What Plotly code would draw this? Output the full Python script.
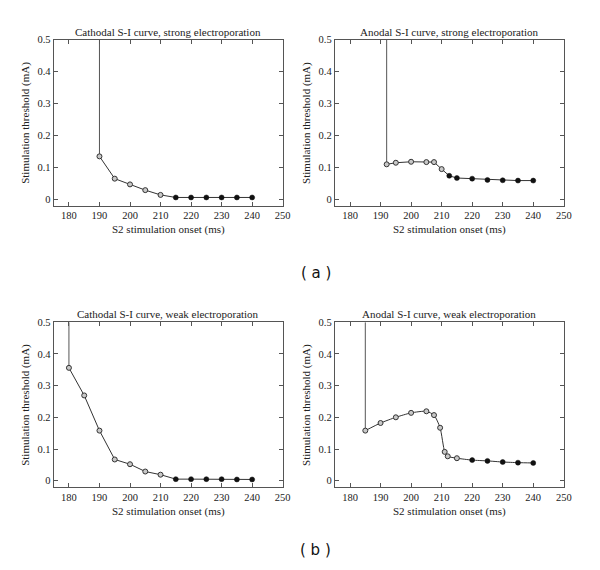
import plotly.graph_objects as go

# ---------------- data ----------------
y_cap = 0.5  # threshold above plotted range (vertical asymptote)

cath_strong_x = [190, 195, 200, 205, 210, 215, 220, 225, 230, 235, 240]
cath_strong_y = [0.134, 0.064, 0.046, 0.028, 0.013, 0.005, 0.005, 0.005, 0.005, 0.005, 0.005]
cath_strong_filled = [0, 0, 0, 0, 0, 1, 1, 1, 1, 1, 1]

anod_strong_x = [192, 195, 200, 205, 207.5, 210, 212.5, 215, 220, 225, 230, 235, 240]
anod_strong_y = [0.109, 0.114, 0.117, 0.116, 0.116, 0.094, 0.073, 0.066, 0.064, 0.060, 0.059, 0.058, 0.058]
anod_strong_filled = [0, 0, 0, 0, 0, 0, 1, 1, 1, 1, 1, 1, 1]

cath_weak_x = [180, 185, 190, 195, 200, 205, 210, 215, 220, 225, 230, 235, 240]
cath_weak_y = [0.356, 0.269, 0.158, 0.067, 0.052, 0.029, 0.019, 0.005, 0.005, 0.005, 0.005, 0.004, 0.004]
cath_weak_filled = [0, 0, 0, 0, 0, 0, 0, 1, 1, 1, 1, 1, 1]

anod_weak_x = [185, 190, 195, 200, 205, 207.5, 209.5, 211, 212, 215, 220, 225, 230, 235, 240]
anod_weak_y = [0.158, 0.182, 0.200, 0.214, 0.219, 0.207, 0.167, 0.091, 0.077, 0.071, 0.065, 0.0625, 0.059, 0.057, 0.056]
anod_weak_filled = [0, 0, 0, 0, 0, 0, 0, 0, 0, 0, 1, 1, 1, 1, 1]

titles = [
    "Cathodal S-I curve, strong electroporation",
    "Anodal S-I curve, strong electroporation",
    "Cathodal S-I curve, weak electroporation",
    "Anodal S-I curve, weak electroporation",
]
x_ticks = [180, 190, 200, 210, 220, 230, 240, 250]
y_ticks = [0, 0.1, 0.2, 0.3, 0.4, 0.5]
x_title = "S2 stimulation onset (ms)"
y_title = "Stimulation threshold (mA)"
panel_labels = ["( a )", "( b )"]

panels = [
    (cath_strong_x, cath_strong_y, cath_strong_filled, "linear"),
    (anod_strong_x, anod_strong_y, anod_strong_filled, "linear"),
    (cath_weak_x, cath_weak_y, cath_weak_filled, "linear"),
    (anod_weak_x, anod_weak_y, anod_weak_filled, "spline"),
]

# ---------------- layout geometry (page pixels) ----------------
OFF = 8                      # default page body margin
W, H = 600 - 2 * OFF, 570 - 2 * OFF
col_px = [(54.3, 286.5), (339.3, 571.5)]
row_px = [(35, 202.5), (320, 486.7)]

SERIF = "Liberation Serif"
TXT = "#222222"
FRAME = "#555555"

fig = go.Figure()
annotations = []


def px(x):
    return (x - OFF) / W


def py(y):
    return 1 - (y - OFF) / H


for i, (xs, ys, filled, shape) in enumerate(panels):
    r, c = divmod(i, 2)
    n = i + 1
    xa = "x" if n == 1 else f"x{n}"
    ya = "y" if n == 1 else f"y{n}"
    # vertical asymptote at first onset
    fig.add_trace(go.Scatter(
        x=[xs[0], xs[0]], y=[y_cap, ys[0]], mode="lines",
        line=dict(color="#555555", width=1),
        xaxis=xa, yaxis=ya, showlegend=False, hoverinfo="skip"))
    fig.add_trace(go.Scatter(
        x=xs, y=ys, mode="lines",
        line=dict(color="#333333", width=1, shape=shape, smoothing=0.6),
        xaxis=xa, yaxis=ya, showlegend=False, hoverinfo="skip"))
    ox = [x for x, f in zip(xs, filled) if not f]
    oy = [y for y, f in zip(ys, filled) if not f]
    fx = [x for x, f in zip(xs, filled) if f]
    fy = [y for y, f in zip(ys, filled) if f]
    fig.add_trace(go.Scatter(
        x=ox, y=oy, mode="markers",
        marker=dict(symbol="circle", size=5, color="#c8c8c8",
                    line=dict(color="#333333", width=1)),
        xaxis=xa, yaxis=ya, showlegend=False))
    fig.add_trace(go.Scatter(
        x=fx, y=fy, mode="markers",
        marker=dict(symbol="circle", size=5, color="#111111",
                    line=dict(color="#111111", width=0.5)),
        xaxis=xa, yaxis=ya, showlegend=False))

    x0, x1 = col_px[c]
    y0, y1 = row_px[r]
    axis_common = dict(
        showline=True, linecolor=FRAME, linewidth=1, mirror="allticks",
        ticks="inside", ticklen=4, tickcolor=FRAME, showgrid=False,
        zeroline=False, tickfont=dict(family=SERIF, size=10.5, color=TXT),
    )
    fig.layout[f"xaxis{'' if n == 1 else n}"] = dict(
        axis_common, domain=[px(x0), px(x1)], range=[175, 250],
        tickvals=x_ticks, anchor=ya)
    fig.layout[f"yaxis{'' if n == 1 else n}"] = dict(
        axis_common, domain=[py(y1), py(y0)], range=[-0.021, 0.5],
        tickvals=y_ticks, ticktext=[f"{v:g}" for v in y_ticks], anchor=xa)

    cx = (x0 + x1) / 2
    annotations.append(dict(text=titles[i], x=px(cx), y=py(y0 - 8), xref="paper", yref="paper",
                            xanchor="center", yanchor="middle", showarrow=False,
                            font=dict(family=SERIF, size=11, color=TXT)))
    annotations.append(dict(text=x_title, x=px(cx), y=py(y1 + 24), xref="paper", yref="paper",
                            xanchor="center", yanchor="middle", showarrow=False,
                            font=dict(family=SERIF, size=11, color=TXT)))
    annotations.append(dict(text=y_title, x=px(x0 - 28), y=py((y0 + y1) / 2), xref="paper",
                            yref="paper", xanchor="center", yanchor="middle", showarrow=False,
                            textangle=-90, font=dict(family=SERIF, size=11, color=TXT)))

annotations.append(dict(text=panel_labels[0], x=px(320), y=py(270), xref="paper", yref="paper",
                        xanchor="center", yanchor="middle", showarrow=False,
                        font=dict(family="DejaVu Sans", size=15, color="#111111")))
annotations.append(dict(text=panel_labels[1], x=px(320), y=py(550), xref="paper", yref="paper",
                        xanchor="center", yanchor="middle", showarrow=False,
                        font=dict(family="DejaVu Sans", size=15, color="#111111")))

fig.update_layout(
    width=W, height=H, margin=dict(l=0, r=0, t=0, b=0),
    paper_bgcolor="white", plot_bgcolor="white",
    annotations=annotations, showlegend=False,
)

fig.write_html("out.html")
